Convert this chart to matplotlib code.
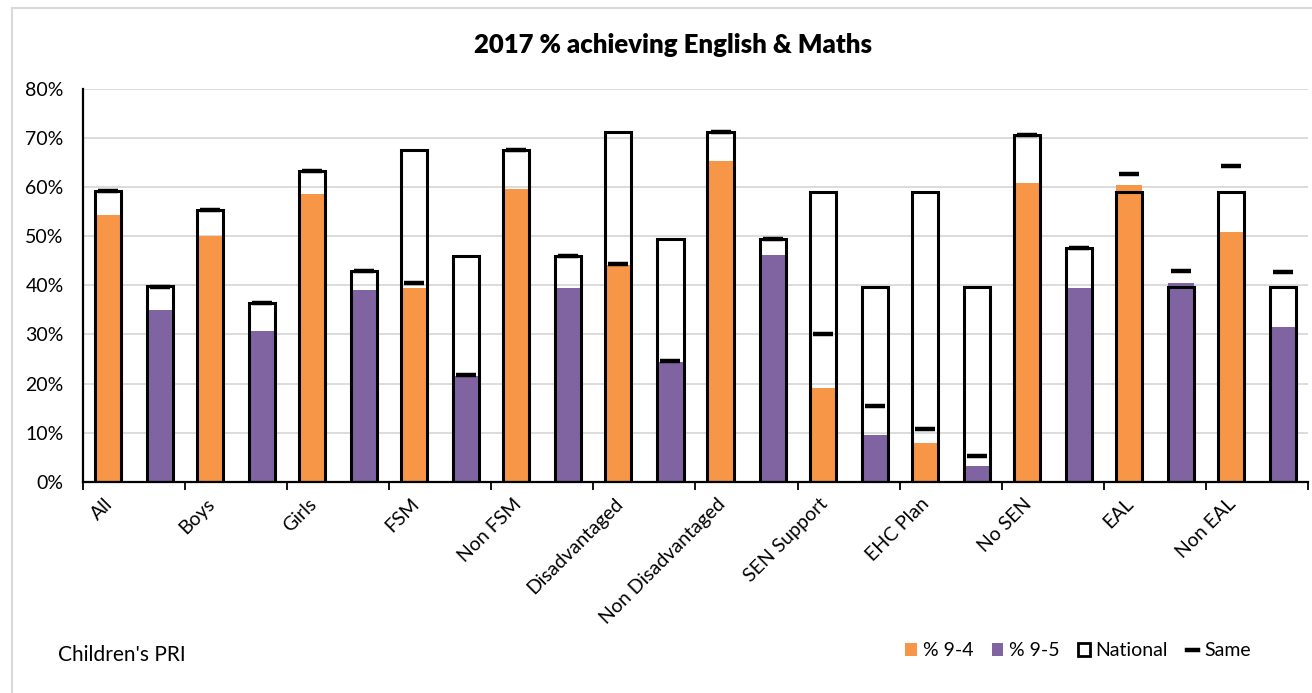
import numpy as np
import matplotlib
matplotlib.use('Agg')
import matplotlib.pyplot as plt
from matplotlib.patches import Patch, Rectangle
from matplotlib.lines import Line2D

plt.rcParams['font.family'] = ['Lato', 'DejaVu Sans']

categories = ['All', 'Boys', 'Girls', 'FSM', 'Non FSM', 'Disadvantaged', 'Non Disadvantaged',
              'SEN Support', 'EHC Plan', 'No SEN', 'EAL', 'Non EAL']

# school results (%)
pct_94 = [54.4, 50.1, 58.7, 39.5, 59.7, 44.1, 65.4, 19.1, 7.8, 60.8, 60.5, 50.9]
pct_95 = [35.0, 30.6, 39.1, 21.6, 39.4, 24.4, 46.1, 9.5, 3.1, 39.5, 40.4, 31.6]

# national figures (hollow bars)
national_94 = [59.2, 55.3, 63.3, 67.5, 67.6, 71.3, 71.3, 59.1, 59.1, 70.6, 59.1, 59.1]
national_95 = [39.8, 36.5, 43.0, 45.9, 45.9, 49.4, 49.4, 39.7, 39.7, 47.7, 39.7, 39.7]

# "Same" markers
same_94 = [59.2, 55.3, 63.3, 40.4, 67.6, 44.4, 71.3, 30.1, 10.7, 70.6, 62.6, 64.3]
same_95 = [39.7, 36.5, 43.0, 21.8, 45.9, 24.5, 49.4, 15.5, 5.3, 47.7, 42.9, 42.7]

ORANGE = '#F79646'
PURPLE = '#8064A2'
FS = 14

fig = plt.figure(figsize=(13.12, 6.93), dpi=100)
ax = fig.add_axes([83/1312, 1 - 481.7/693, (1308 - 83)/1312, (481.7 - 89)/693])

x = np.arange(len(categories))
off = 0.255
w = 0.255

ax.bar(x - off, pct_94, width=w, color=ORANGE, zorder=2)
ax.bar(x + off, pct_95, width=w, color=PURPLE, zorder=2)
ax.bar(x - off, national_94, width=w, facecolor='none', edgecolor='black', linewidth=2.2, zorder=3)
ax.bar(x + off, national_95, width=w, facecolor='none', edgecolor='black', linewidth=2.2, zorder=3)
ax.plot(x - off, same_94, ls='none', marker='_', ms=15, mew=3.2, color='black', zorder=4)
ax.plot(x + off, same_95, ls='none', marker='_', ms=15, mew=3.2, color='black', zorder=4)

ax.set_xlim(-0.5, len(categories) - 0.5)
ax.set_ylim(0, 80)
ax.set_yticks(np.arange(0, 81, 10))
ax.set_yticklabels([f'{v}%' for v in range(0, 81, 10)], fontsize=FS)
ax.tick_params(axis='y', length=0, pad=14)
ax.yaxis.grid(True, color='#d9d9d9', linewidth=1.3, zorder=0)
ax.set_axisbelow(True)

ax.set_xticks(x - off + 0.02)
ax.set_xticklabels(categories, rotation=45, ha='right', va='center', rotation_mode='anchor', fontsize=FS)
ax.tick_params(axis='x', which='major', length=0, pad=14)
ax.set_xticks(np.arange(-0.5, len(categories)), minor=True)
ax.tick_params(axis='x', which='minor', length=6, width=1.3, color='black')

for s in ['top', 'right']:
    ax.spines[s].set_visible(False)
for s in ['left', 'bottom']:
    ax.spines[s].set_linewidth(1.6)

fig.text(673/1312, 1 - 45/693, '2017 % achieving English & Maths', ha='center', va='center',
         fontsize=18.5, fontweight='heavy')
fig.text(58/1312, 1 - 655/693, "Children's PRI", ha='left', va='center', fontsize=15)

# chart border
fig.patches.append(Rectangle((12/1312, -0.1), 1.2, 1.1 - 8/693, transform=fig.transFigure,
                             facecolor='none', edgecolor='#d9d9d9', linewidth=1.5))

handles = [Patch(facecolor=ORANGE, label='% 9-4'),
           Patch(facecolor=PURPLE, label='% 9-5'),
           Patch(facecolor='white', edgecolor='black', linewidth=2, label='National'),
           Line2D([0], [0], color='black', lw=3.2, label='Same')]
fig.legend(handles=handles, loc='center', bbox_to_anchor=(1078/1312, 1 - 651/693), ncol=4,
           frameon=False, fontsize=FS, handlelength=0.6, handleheight=0.6, handletextpad=0.3,
           columnspacing=0.95)

fig.savefig('out.png', dpi=100)
